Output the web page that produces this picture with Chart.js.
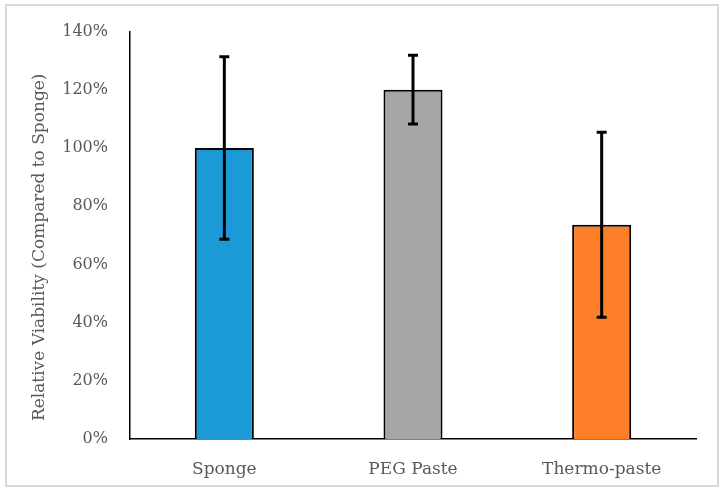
<!DOCTYPE html>
<html>
<head>
<meta charset="utf-8">
<script src="https://cdn.jsdelivr.net/npm/chart.js@4/dist/chart.umd.min.js"></script>
<style>
  html, body { margin: 0; padding: 0; background: #fff; }
  #wrap { position: relative; width: 723px; height: 492px; }
  #frame { position: absolute; left: 5px; top: 4px; width: 710px; height: 479px; border: 2px solid #d9d9d9; pointer-events: none; }
</style>
</head>
<body>
<div id="wrap">
  <canvas id="c" width="723" height="492"></canvas>
  <div id="frame"></div>
</div>
<script>
const categories = ['Sponge', 'PEG Paste', 'Thermo-paste'];
const viability = [100, 120.05, 73.6];
const errors = [31.4, 11.8, 31.8];
const barColors = ['#1B9AD7', '#A6A6A6', '#FD7F28'];
const yTicks = [0, 20, 40, 60, 80, 100, 120, 140];
const yTitle = 'Relative Viability (Compared to Sponge)';

const FONT = 'DejaVu Serif';
const TEXT = '#595959';

const errorBars = {
  id: 'errorBars',
  afterDatasetsDraw(chart) {
    const ctx = chart.ctx;
    const xs = chart.scales.x, ys = chart.scales.y;
    ctx.save();
    ctx.strokeStyle = '#000';
    ctx.lineWidth = 3;
    viability.forEach((v, i) => {
      const x = xs.getPixelForValue(i);
      const yTop = ys.getPixelForValue(v + errors[i]);
      const yBot = ys.getPixelForValue(v - errors[i]);
      ctx.beginPath();
      ctx.moveTo(x, yTop); ctx.lineTo(x, yBot);
      ctx.moveTo(x - 5, yTop); ctx.lineTo(x + 5, yTop);
      ctx.moveTo(x - 5, yBot); ctx.lineTo(x + 5, yBot);
      ctx.stroke();
    });
    ctx.restore();
  }
};

const axisTitle = {
  id: 'axisTitle',
  afterDraw(chart) {
    const ctx = chart.ctx;
    const a = chart.chartArea;
    ctx.save();
    ctx.translate(40, (a.top + a.bottom) / 2 + 12);
    ctx.rotate(-Math.PI / 2);
    ctx.font = '17px "' + FONT + '"';
    ctx.fillStyle = TEXT;
    ctx.textAlign = 'center';
    ctx.textBaseline = 'middle';
    ctx.fillText(yTitle, 0, 0);
    ctx.restore();
  }
};

new Chart(document.getElementById('c'), {
  type: 'bar',
  data: {
    labels: categories,
    datasets: [{
      data: viability,
      backgroundColor: barColors,
      borderColor: '#000',
      borderWidth: 2,
      barPercentage: 0.313,
      categoryPercentage: 1
    }]
  },
  options: {
    responsive: false,
    animation: false,
    devicePixelRatio: 1,
    layout: { padding: { left: 0, right: 27, top: 30, bottom: 0 } },
    plugins: { legend: { display: false }, tooltip: { enabled: false } },
    scales: {
      x: {
        grid: { display: false, drawTicks: false },
        border: { display: true, color: '#000', width: 1.5 },
        ticks: { color: TEXT, font: { family: FONT, size: 17 }, padding: 20, maxRotation: 0 },
        afterFit(s) { s.height = 53; }
      },
      y: {
        min: 0, max: 140,
        afterBuildTicks(s) { s.ticks = yTicks.map(v => ({ value: v })); },
        grid: { display: false, drawTicks: false },
        border: { display: true, color: '#000', width: 1.5 },
        ticks: { color: TEXT, font: { family: FONT, size: 16 }, padding: 22, callback: v => v + '%' },
        afterFit(s) { s.width = 130; }
      }
    }
  },
  plugins: [errorBars, axisTitle]
});
</script>
</body>
</html>
